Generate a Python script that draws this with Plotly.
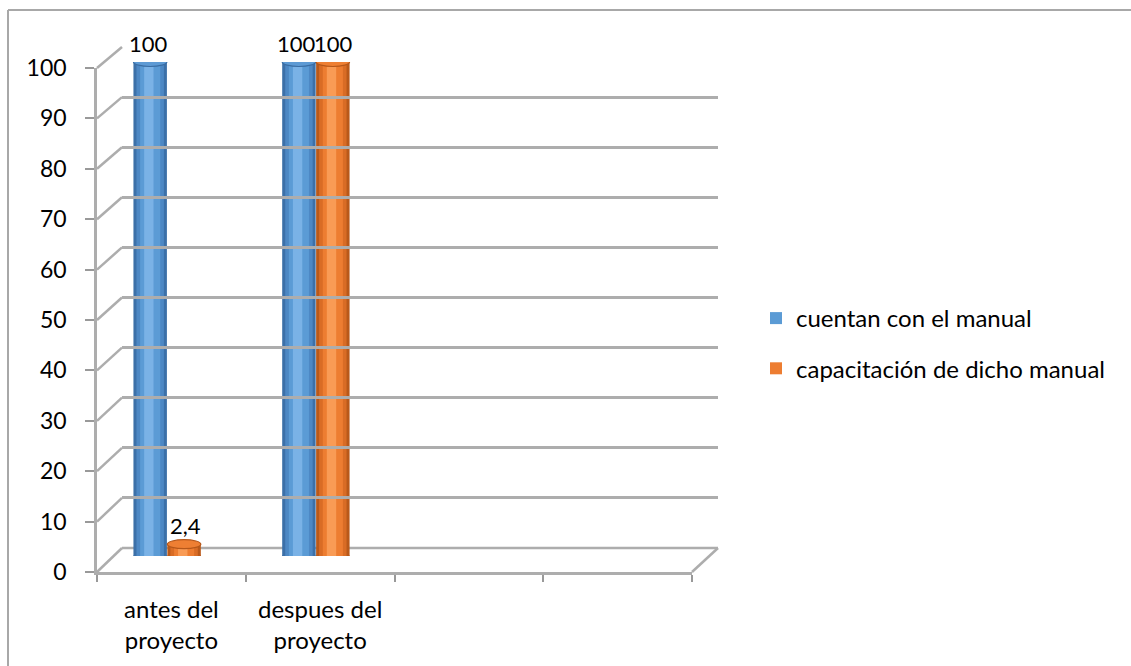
import plotly.graph_objects as go

# ---------------- data ----------------
categories = ["antes del<br>proyecto", "despues del<br>proyecto", " ", "  "]
series_names = ["cuentan con el manual", "capacitación de dicho manual"]
cuentan = [100, 100, None, None]
capacitacion = [2.4, 100, None, None]
y_ticks = [0, 10, 20, 30, 40, 50, 60, 70, 80, 90, 100]

# ---------------- layout constants (pixels) ----------------
W, H = 1131, 666
FONT = "Lato"
TXT = 24      # text size
NUM = 23      # axis number size
LBL = 22      # data label size
FRONT_X = (97, 692)      # front x-axis span
FRONT_Y = (572, 68)      # pixel y of value 0 and value 100 on front wall
BACK_X = (122, 718)      # back wall span
BACK_Y = (548, 47)
MID_Y = (556, 62)        # bars sit at mid depth
GRID = "#adadad"


def fx(p):
    return p / W


def fy(p):
    return 1 - p / H


series = [
    dict(name=series_names[0], vals=cuentan, offset=-0.255, lshift=-2,
         edge="#3c70a8", dark="#4d88c4", mid="#5b9bd5", hi="#7ab2e6",
         cap="#5d9ad4", rim="#3a6da3"),
    dict(name=series_names[1], vals=capacitacion, offset=-0.027, lshift=1,
         edge="#b9591a", dark="#d96c25", mid="#ed7d31", hi="#f99b55",
         cap="#ee7f33", rim="#b5571a"),
]
BW = 0.225

fig = go.Figure()

# dummy traces so that the front and back wall axes exist
fig.add_trace(go.Scatter(x=categories, y=[None] * len(categories), xaxis="x", yaxis="y",
                         mode="markers", showlegend=False, hoverinfo="skip"))
fig.add_trace(go.Scatter(x=[None], y=[None], xaxis="x2", yaxis="y2",
                         mode="markers", showlegend=False, hoverinfo="skip"))

shapes = []
annotations = []

for s in series:
    layers = [
        (1.0, s["edge"], False),
        (0.82, s["dark"], False),
        (0.6, s["mid"], True),
        (0.28, s["hi"], False),
    ]
    for frac, col, leg in layers:
        w = BW * frac
        off = s["offset"] + (BW - w) / 2 - (0.04 * BW if frac < 0.5 else 0)
        fig.add_trace(go.Bar(
            x=categories, y=s["vals"], xaxis="x", yaxis="y3",
            offset=off, width=w,
            marker=dict(color=col, line=dict(width=0)),
            name=s["name"], legendgroup=s["name"], showlegend=leg,
            hoverinfo="skip" if not leg else None,
        ))
    for i, v in enumerate(s["vals"]):
        if v is None:
            continue
        x0 = i + s["offset"]
        x1 = x0 + BW
        # rounded bottom
        shapes.append(dict(type="circle", xref="x", yref="y3", x0=x0, x1=x1,
                           ysizemode="pixel", yanchor=0, y0=-4.5, y1=4.5,
                           fillcolor=s["edge"], line=dict(width=0), layer="below"))
        # top cap
        shapes.append(dict(type="circle", xref="x", yref="y3", x0=x0, x1=x1,
                           ysizemode="pixel", yanchor=v, y0=-4.5, y1=4.5,
                           fillcolor=s["cap"], line=dict(color=s["rim"], width=1.2),
                           layer="above"))
        label = f"{v:g}".replace(".", ",")
        annotations.append(dict(x=(x0 + x1) / 2, y=v, xref="x", yref="y3",
                                text=label, showarrow=False, yanchor="bottom",
                                yshift=3, xshift=s["lshift"],
                                font=dict(family=FONT, size=LBL, color="#000")))

# side-wall diagonals for each tick value
for v in y_ticks:
    yf = FRONT_Y[0] + (FRONT_Y[1] - FRONT_Y[0]) * v / 100
    yb = BACK_Y[0] + (BACK_Y[1] - BACK_Y[0]) * v / 100
    shapes.append(dict(type="line", xref="paper", yref="paper",
                       x0=fx(FRONT_X[0]), y0=fy(yf), x1=fx(BACK_X[0]), y1=fy(yb),
                       line=dict(color=GRID, width=2.5), layer="below"))
# right floor diagonal
shapes.append(dict(type="line", xref="paper", yref="paper",
                   x0=fx(FRONT_X[1]), y0=fy(FRONT_Y[0]), x1=fx(BACK_X[1]), y1=fy(BACK_Y[0]),
                   line=dict(color=GRID, width=2.5), layer="below"))
# back floor edge
shapes.append(dict(type="line", xref="paper", yref="paper",
                   x0=fx(BACK_X[0]), y0=fy(BACK_Y[0]), x1=fx(BACK_X[1]), y1=fy(BACK_Y[0]),
                   line=dict(color=GRID, width=2.5), layer="below"))
# outer chart border (top and left edges visible)
shapes.append(dict(type="line", xref="paper", yref="paper",
                   x0=fx(8), x1=1.0, y0=fy(10), y1=fy(10),
                   line=dict(color="#a8a8a8", width=2), layer="below"))
shapes.append(dict(type="line", xref="paper", yref="paper",
                   x0=fx(8), x1=fx(8), y0=0.0, y1=fy(10),
                   line=dict(color="#a8a8a8", width=2), layer="below"))

fig.update_layout(
    width=W, height=H,
    margin=dict(l=0, r=0, t=0, b=0, autoexpand=False),
    paper_bgcolor="white", plot_bgcolor="rgba(0,0,0,0)",
    barmode="overlay",
    font=dict(family=FONT, size=TXT, color="#000"),
    showlegend=True,
    legend=dict(x=fx(756), y=fy(296), xanchor="left", yanchor="top",
                traceorder="grouped", tracegroupgap=16,
                font=dict(family=FONT, size=TXT, color="#000"),
                bgcolor="rgba(0,0,0,0)"),
    xaxis=dict(domain=[fx(FRONT_X[0]), fx(FRONT_X[1])], anchor="y",
               type="category", categoryorder="array", categoryarray=categories,
               range=[-0.5, 3.5], tickson="boundaries", ticks="outside",
               ticklen=7, tickcolor="#999", tickwidth=1.5,
               showline=True, linecolor=GRID, linewidth=2.5,
               showgrid=False, zeroline=False, ticklabelstandoff=14,
               automargin=False,
               tickfont=dict(family=FONT, size=TXT, color="#000")),
    yaxis=dict(domain=[fy(FRONT_Y[0]), fy(FRONT_Y[1])], anchor="x",
               range=[0, 100], tickvals=y_ticks, ticks="outside", ticklen=9,
               tickcolor="#999", tickwidth=1.5,
               showline=True, linecolor=GRID, linewidth=2.5,
               showgrid=False, zeroline=False, ticklabelstandoff=14,
               automargin=False,
               tickfont=dict(family=FONT, size=NUM, color="#000")),
    xaxis2=dict(domain=[fx(BACK_X[0]), fx(BACK_X[1])], anchor="y2",
                range=[0, 1], visible=False, automargin=False),
    yaxis2=dict(domain=[fy(BACK_Y[0]), fy(BACK_Y[1])], anchor="x2",
                range=[0, 100], tickvals=y_ticks, showgrid=True,
                gridcolor=GRID, gridwidth=2.5, showticklabels=False,
                ticks="", zeroline=False, showline=False, automargin=False),
    yaxis3=dict(domain=[fy(MID_Y[0]), fy(MID_Y[1])], anchor="x",
                range=[0, 100], visible=False, automargin=False),
    shapes=shapes,
    annotations=annotations,
)

fig.write_html("out.html")
